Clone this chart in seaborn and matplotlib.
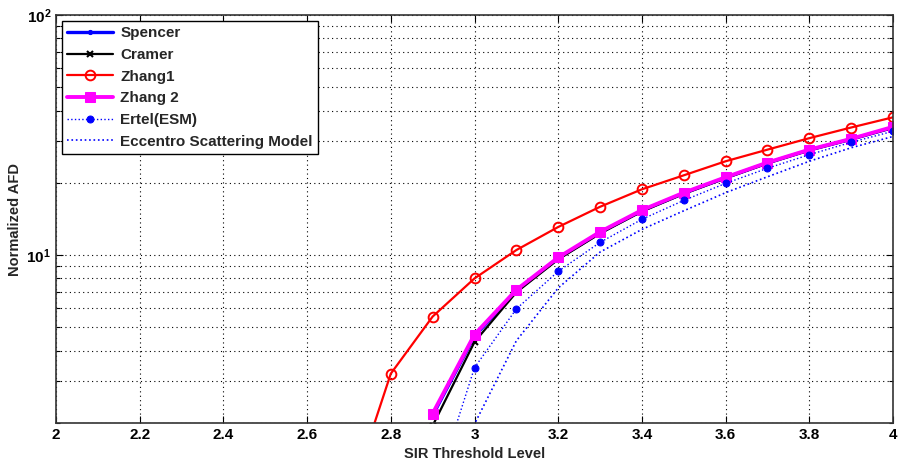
import numpy as np
import pandas as pd
import matplotlib
matplotlib.use("Agg")
import matplotlib.pyplot as plt
import seaborn as sns
from matplotlib.ticker import FixedLocator, FixedFormatter, LogLocator, NullFormatter

# ---------------- data ----------------
x_full = [2.9, 3.0, 3.1, 3.2, 3.3, 3.4, 3.5, 3.6, 3.7, 3.8, 3.9, 4.0]
x_zhang1 = [2.7, 2.8, 2.9, 3.0, 3.1, 3.2, 3.3, 3.4, 3.5, 3.6, 3.7, 3.8, 3.9, 4.0]

spencer = [2.15, 4.6, 7.1, 9.7, 12.4, 15.3, 18.1, 21.0, 24.2, 27.4, 30.4, 34.0]
cramer = [1.95, 4.35, 7.0, 9.6, 12.3, 15.2, 18.0, 20.9, 24.1, 27.3, 30.3, 33.9]
zhang1 = [0.95, 3.21, 5.55, 8.0, 10.5, 13.1, 15.9, 18.8, 21.5, 24.6, 27.5, 30.7, 34.0, 37.5]
zhang2 = [2.19, 4.67, 7.17, 9.78, 12.5, 15.4, 18.2, 21.1, 24.3, 27.5, 30.5, 34.2]
ertel = [0.97, 3.40, 5.97, 8.56, 11.3, 14.1, 16.9, 19.9, 23.0, 26.2, 29.5, 32.8]
eccentro = [0.8, 1.98, 4.4, 7.3, 10.3, 12.8, 15.3, 18.2, 21.2, 24.6, 28.0, 31.2]

x_ticks = [2.0, 2.2, 2.4, 2.6, 2.8, 3.0, 3.2, 3.4, 3.6, 3.8, 4.0]
x_tick_labels = ["2", "2.2", "2.4", "2.6", "2.8", "3", "3.2", "3.4", "3.6", "3.8", "4"]
y_ticks = [10, 100]
y_tick_labels = [r"$\mathbf{10^{1}}$", r"$\mathbf{10^{2}}$"]

# ---------------- style ----------------
sns.set_theme(style="white")
plt.rcParams["font.family"] = ["Liberation Sans", "DejaVu Sans"]
plt.rcParams["font.weight"] = "bold"
plt.rcParams["mathtext.fontset"] = "custom"
plt.rcParams["mathtext.rm"] = "Liberation Sans"
plt.rcParams["mathtext.bf"] = "Liberation Sans:bold"

fig = plt.figure(figsize=(9.01, 4.65), dpi=100)
ax = fig.add_axes([56 / 901, 1 - 423 / 465, (893 - 56) / 901, (423 - 15) / 465])

blue = (0, 0, 1)
sns.lineplot(x=x_full, y=spencer, ax=ax, color=blue, lw=2.4, marker="o",
             markersize=3, mec=blue, mfc=blue, label="Spencer")
sns.lineplot(x=x_full, y=cramer, ax=ax, color="black", lw=1.6, marker="x",
             markersize=5, mec="black", mew=1.5, label="Cramer")
sns.lineplot(x=x_zhang1, y=zhang1, ax=ax, color="red", lw=1.6, marker="o",
             markersize=7, mec="red", mfc="none", mew=1.4, label="Zhang1")
sns.lineplot(x=x_full, y=zhang2, ax=ax, color="magenta", lw=2.8, marker="s",
             markersize=7, mec="magenta", mfc="magenta", label="Zhang 2")
sns.lineplot(x=x_full, y=ertel, ax=ax, color=blue, lw=1.0, ls=":", marker="o",
             markersize=5, mec=blue, mfc=blue, label="Ertel(ESM)")
sns.lineplot(x=x_full, y=eccentro, ax=ax, color=blue, lw=1.2, ls=":",
             label="Eccentro Scattering Model")

ax.set_yscale("log")
ax.set_xlim(2, 4)
ax.set_ylim(2, 100)

ax.xaxis.set_major_locator(FixedLocator(x_ticks))
ax.xaxis.set_major_formatter(FixedFormatter(x_tick_labels))
ax.yaxis.set_major_locator(FixedLocator(y_ticks))
ax.yaxis.set_major_formatter(FixedFormatter(y_tick_labels))
ax.yaxis.set_minor_locator(LogLocator(base=10, subs=np.arange(2, 10), numticks=20))
ax.yaxis.set_minor_formatter(NullFormatter())

ax.tick_params(axis="both", which="both", direction="in", top=True, right=True,
               bottom=True, left=True, colors="black", labelsize=11)
ax.tick_params(which="major", length=5, width=0.8)
ax.tick_params(which="minor", length=3, width=0.8)
for lab in ax.get_xticklabels() + ax.get_yticklabels():
    lab.set_fontweight("bold")

ax.grid(True, which="major", axis="x", color="black", ls=(0, (1, 3)), lw=0.8)
ax.grid(True, which="both", axis="y", color="black", ls=(0, (1, 3)), lw=0.8)

for sp in ax.spines.values():
    sp.set_color("#333333")
    sp.set_linewidth(1.2)

ax.set_xlabel("SIR Threshold Level", fontsize=10.5, fontweight="bold", labelpad=4)
ax.set_ylabel("Normalized AFD", fontsize=10.5, fontweight="bold")
ax.yaxis.set_label_coords(-0.041, 0.5)

leg = ax.legend(loc="upper left", frameon=True, fancybox=False, framealpha=1,
                edgecolor="black", handlelength=3.0, handletextpad=0.45,
                labelspacing=0.5, borderaxespad=0.4, borderpad=0.35,
                prop={"weight": "bold", "size": 11})
leg.get_frame().set_linewidth(1.0)

fig.savefig("out.png", dpi=100, facecolor="white")
